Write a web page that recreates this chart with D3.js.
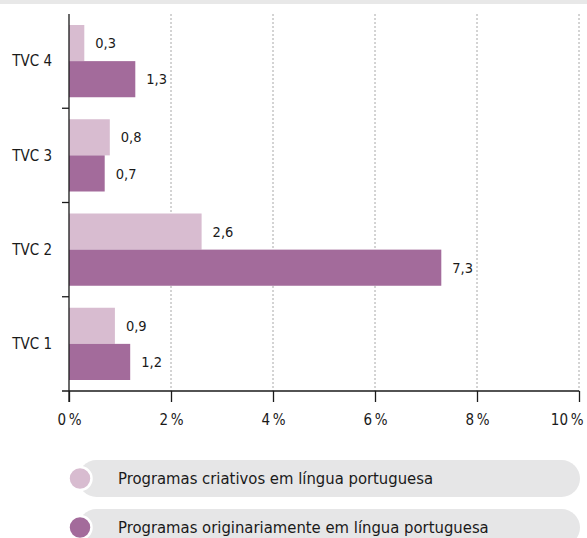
<!DOCTYPE html>
<html>
<head>
<meta charset="utf-8">
<script src="https://cdn.jsdelivr.net/npm/d3@7"></script>
<style>
  html, body { margin: 0; padding: 0; background: #fff; }
  svg { display: block; }
  text { font-family: "DejaVu Sans Condensed", "Liberation Sans Narrow", sans-serif; fill: #1a1a1a; }
</style>
</head>
<body>
<svg id="chart" width="587" height="538"></svg>
<script>
// Channels, top to bottom
const categories = ["TVC 4", "TVC 3", "TVC 2", "TVC 1"];
const seriesNames = [
  "Programas criativos em língua portuguesa",
  "Programas originariamente em língua portuguesa"
];
// Percentages for each channel, same order as categories
const criativos = [0.3, 0.8, 2.6, 0.9];
const originarios = [1.3, 0.7, 7.3, 1.2];
const xTicks = [0, 2, 4, 6, 8, 10];
const colors = ["#d8bcd0", "#a36b9b"];

const svg = d3.select("#chart");
const W = 587;

// thin grey strip along the top edge
svg.append("rect").attr("x", 0).attr("y", 0).attr("width", W).attr("height", 4).attr("fill", "#e8e8e8");

const x = d3.scaleLinear().domain([0, 10]).range([69, 579]);
const y = d3.scaleBand().domain(categories).range([14, 391]);
const ySub = d3.scaleBand().domain([0, 1]).range([11, y.bandwidth() - 11]);

const fmt = v => String(v.toFixed(1)).replace(".", ",");

// dotted vertical gridlines
svg.append("g").selectAll("line").data(xTicks.filter(t => t > 0)).join("line")
  .attr("x1", d => x(d)).attr("x2", d => x(d))
  .attr("y1", 14).attr("y2", 391)
  .attr("stroke", "#a8a8a8").attr("stroke-width", 1)
  .attr("stroke-dasharray", "2,2");

// bars
const rows = categories.map((c, i) => ({ cat: c, vals: [criativos[i], originarios[i]] }));
const grp = svg.append("g").selectAll("g").data(rows).join("g")
  .attr("transform", d => `translate(0,${y(d.cat)})`);

grp.selectAll("rect").data(d => d.vals.map((v, k) => ({ v, k }))).join("rect")
  .attr("x", x(0))
  .attr("y", d => ySub(d.k))
  .attr("width", d => x(d.v) - x(0))
  .attr("height", ySub.bandwidth())
  .attr("fill", d => colors[d.k]);

grp.selectAll("text.val").data(d => d.vals.map((v, k) => ({ v, k }))).join("text")
  .attr("class", "val")
  .attr("x", d => x(d.v) + 11)
  .attr("y", d => ySub(d.k) + ySub.bandwidth() / 2)
  .attr("dy", "0.35em")
  .attr("font-size", 14.5)
  .text(d => fmt(d.v));

// category labels
svg.append("g").selectAll("text").data(categories).join("text")
  .attr("x", 52)
  .attr("y", d => y(d) + y.bandwidth() / 2)
  .attr("dy", "0.35em")
  .attr("text-anchor", "end")
  .attr("font-size", 15)
  .text(d => d);

// y axis line and ticks at band boundaries
const axisColor = "#1a1a1a";
svg.append("line").attr("x1", x(0)).attr("x2", x(0)).attr("y1", 14).attr("y2", 402)
  .attr("stroke", axisColor).attr("stroke-width", 1.3);
svg.append("g").selectAll("line").data(categories.slice(0, 3)).join("line")
  .attr("x1", 62).attr("x2", x(0))
  .attr("y1", d => y(d) + y.bandwidth()).attr("y2", d => y(d) + y.bandwidth())
  .attr("stroke", axisColor).attr("stroke-width", 1.3);

// x axis
const xAxis = d3.axisBottom(x).tickValues(xTicks).tickSize(11).tickPadding(12)
  .tickFormat(d => d + "\u2009%");
const gx = svg.append("g").attr("transform", "translate(0,391)").call(xAxis);
gx.select(".domain").attr("d", `M62,0H${x(10)}`).attr("stroke", axisColor).attr("stroke-width", 1.3);
gx.selectAll(".tick line").attr("stroke", axisColor).attr("stroke-width", 1.3);
gx.selectAll(".tick text").attr("font-size", 15).attr("font-family", null).attr("fill", "#1a1a1a");
// keep the last label inside the page
gx.selectAll(".tick text").filter(d => d === 10)
  .attr("text-anchor", "end").attr("x", W - 4 - x(10));

// legend
const legend = svg.append("g").selectAll("g").data(seriesNames).join("g")
  .attr("transform", (d, i) => `translate(0,${460 + i * 49})`);
legend.append("rect")
  .attr("x", 78).attr("y", 0).attr("width", 502).attr("height", 37)
  .attr("rx", 18.5).attr("fill", "#e6e6e7");
legend.append("circle")
  .attr("cx", 80).attr("cy", 18.5).attr("r", 11.5)
  .attr("fill", (d, i) => colors[i]).attr("stroke", "#fff").attr("stroke-width", 2.5);
legend.append("text")
  .attr("x", 118).attr("y", 18.5).attr("dy", "0.35em")
  .attr("font-size", 16.5)
  .text(d => d);
</script>
</body>
</html>
